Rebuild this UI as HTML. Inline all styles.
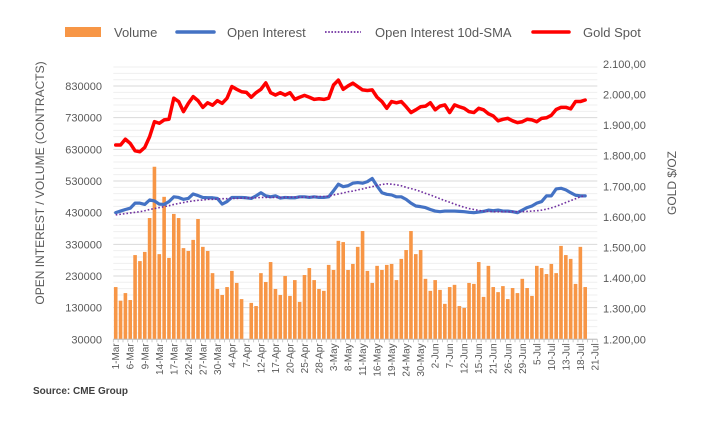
<!DOCTYPE html>
<html><head><meta charset="utf-8"><style>
body{margin:0;background:#fff;font-family:"Liberation Sans",sans-serif;}
svg{display:block}
</style></head><body>
<svg id="chart" width="708" height="432" viewBox="0 0 708 432" xmlns="http://www.w3.org/2000/svg" font-family="Liberation Sans, sans-serif">
<g id="grid"></g>
<g id="bars"></g>
<g id="lines"></g>
<g id="axes"></g>
<g font-size="13" fill="#595959">
 <rect x="65" y="27" width="36" height="10" fill="#F79646"/>
 <text x="114" y="37">Volume</text>
 <line x1="177" y1="32" x2="214" y2="32" stroke="#4472C4" stroke-width="3.5" stroke-linecap="round"/>
 <text x="227" y="37">Open Interest</text>
 <line x1="325" y1="32" x2="361" y2="32" stroke="#7030A0" stroke-width="1.8" stroke-dasharray="1.6 1.6"/>
 <text x="375" y="37">Open Interest 10d-SMA</text>
 <line x1="533" y1="32" x2="569" y2="32" stroke="#FF0000" stroke-width="3.5" stroke-linecap="round"/>
 <text x="583" y="37">Gold Spot</text>
</g>
<text transform="translate(44,183) rotate(-90)" text-anchor="middle" font-size="12" fill="#595959">OPEN INTEREST / VOLUME (CONTRACTS)</text>
<text transform="translate(676,183) rotate(-90)" text-anchor="middle" font-size="12" fill="#595959">GOLD $/OZ</text>
<text x="33" y="394" font-size="10" font-weight="bold" fill="#404040">Source: CME Group</text>
</svg>
<script>
const xLabels=["1-Mar","6-Mar","9-Mar","14-Mar","17-Mar","22-Mar","27-Mar","30-Mar","4-Apr","7-Apr","12-Apr","17-Apr","20-Apr","25-Apr","28-Apr","3-May","8-May","11-May","16-May","19-May","24-May","30-May","2-Jun","7-Jun","12-Jun","15-Jun","21-Jun","26-Jun","29-Jun","5-Jul","10-Jul","13-Jul","18-Jul","21-Jul"];
const categoryCount=100;
const volume=[195,152,176,154,296,277,306,413,575,299,480,287,426,413,318,309,344,410,322,309,239,189,170,195,246,208,157,0,145,135,239,211,274,189,170,230,167,217,148,233,255,217,189,183,265,249,341,337,249,268,322,372,246,208,262,249,265,268,217,284,312,372,299,312,221,183,217,186,142,195,202,135,129,208,205,274,164,262,195,179,198,157,192,176,221,192,167,262,255,236,268,239,325,296,284,205,322,195];
const openInterest=[430,435,440,444,460,460,456,470,467,457,456,465,480,478,472,475,489,484,478,477,477,475,457,465,478,478,478,477,475,483,493,483,480,483,476,478,477,477,480,480,478,480,478,478,480,499,520,512,515,523,525,523,528,538,514,493,488,486,480,480,472,460,451,449,446,440,435,433,435,435,435,434,433,431,430,432,434,438,436,438,435,435,433,430,438,446,451,460,465,483,483,505,507,502,493,485,483,483];
const oiSma=[423,425,427,429,431,433,436,440,443,446,449,452,456,459,462,465,467,469,470,472,472,473,474,474,475,475,476,476,477,477,478,478,478,478,478,478,479,479,479,479,480,480,481,481,482,486,489,492,496,498,502,505,509,512,516,519,521,520,518,515,510,506,502,497,491,486,480,474,468,463,457,452,447,443,440,437,435,434,433,433,433,433,433,433,433,434,435,436,438,441,445,450,456,462,468,474,480,484];
const goldSpot=[1835,1835,1854,1840,1816,1813,1827,1862,1911,1906,1917,1919,1988,1977,1944,1971,1993,1980,1958,1973,1965,1980,1971,1988,2026,2017,2009,2007,1991,2006,2017,2038,2006,1998,2006,1998,2006,1984,1991,1997,1991,1984,1986,1984,1988,2031,2047,2017,2028,2037,2026,2015,2013,2015,1991,1977,1955,1977,1973,1977,1960,1941,1950,1960,1962,1973,1950,1962,1966,1941,1966,1960,1955,1944,1941,1955,1950,1937,1930,1914,1919,1922,1914,1908,1911,1919,1917,1911,1922,1924,1932,1951,1958,1958,1953,1977,1977,1982];
const leftTicks=[30000,130000,230000,330000,430000,530000,630000,730000,830000];
const rightTicks=[1200,1300,1400,1500,1600,1700,1800,1900,2000,2100];

const NS="http://www.w3.org/2000/svg";
const X0=113.3,X1=597.3,YB=339.3,YT=65;
const step=(X1-X0)/categoryCount;
const xC=i=>X0+step*(i+0.5);
const yL=v=>YB-(v-30000)/100000*31.66;
const yR=v=>YB-(v-1200)/100*30.6;
function mk(tag,attrs,parent){const e=document.createElementNS(NS,tag);for(const k in attrs)e.setAttribute(k,attrs[k]);parent.appendChild(e);return e;}
const grid=document.getElementById('grid'),bars=document.getElementById('bars'),lines=document.getElementById('lines'),axes=document.getElementById('axes');
for(let v=30000;yL(v)>=YT-0.5;v+=20000){
  const major=(v-30000)%100000===0;
  const l=mk('line',{x1:X0,x2:X1,y1:yL(v),y2:yL(v),stroke:major?'#d9d9d9':'#efefef','stroke-width':1},grid);
  
  
}
volume.forEach((v,i)=>{
  if(!v)return;
  const y=yL(v*1000);
  const r=mk('rect',{x:xC(i)-1.8,y:y,width:3.6,height:YB-y,fill:'#F79646'},bars);
  
  
});
function path(arr,fn,attrs,name){
  const d=arr.map((v,i)=>(i?'L':'M')+xC(i).toFixed(2)+' '+fn(v).toFixed(2)).join(' ');
  const p=mk('path',Object.assign({d:d,fill:'none','stroke-linejoin':'round','stroke-linecap':'round'},attrs),lines);
  
  
}
path(openInterest,v=>yL(v*1000),{stroke:'#4472C4','stroke-width':3.2},'open-interest-line');
path(oiSma,v=>yL(v*1000),{stroke:'#7030A0','stroke-width':1.6,'stroke-dasharray':'1.6 2','stroke-linecap':'butt'},'oi-sma-line');
path(goldSpot,yR,{stroke:'#FF0000','stroke-width':3.5},'gold-spot-line');
const ax=mk('line',{x1:X0,x2:X1,y1:YB,y2:YB,stroke:'#bfbfbf','stroke-width':1},axes);


for(let i=0;i<=categoryCount;i++){
  const t=mk('line',{x1:X0+step*i,x2:X0+step*i,y1:YB,y2:YB+3,stroke:'#bfbfbf','stroke-width':0.8},axes);
  
  
}
xLabels.forEach((s,k)=>{
  const x=xC(k*3)+3.5,y=YB+4;
  const t=mk('text',{transform:`translate(${x},${y}) rotate(-90)`,'text-anchor':'end','font-size':10,fill:'#595959'},axes);
  t.textContent=s;
  
  
});
leftTicks.forEach(v=>{
  const t=mk('text',{x:102,y:yL(v)+4,'text-anchor':'end','font-size':11,fill:'#595959'},axes);
  t.textContent=String(v);
  
  
});
rightTicks.forEach(v=>{
  const t=mk('text',{x:603,y:yR(v)+4,'font-size':11,fill:'#595959'},axes);
  t.textContent=v.toLocaleString('de-DE')+',00';
  if(v>=1000)t.textContent=Math.floor(v/1000)+'.'+String(v%1000).padStart(3,'0')+',00';
  
  
});
</script>
</body></html>
